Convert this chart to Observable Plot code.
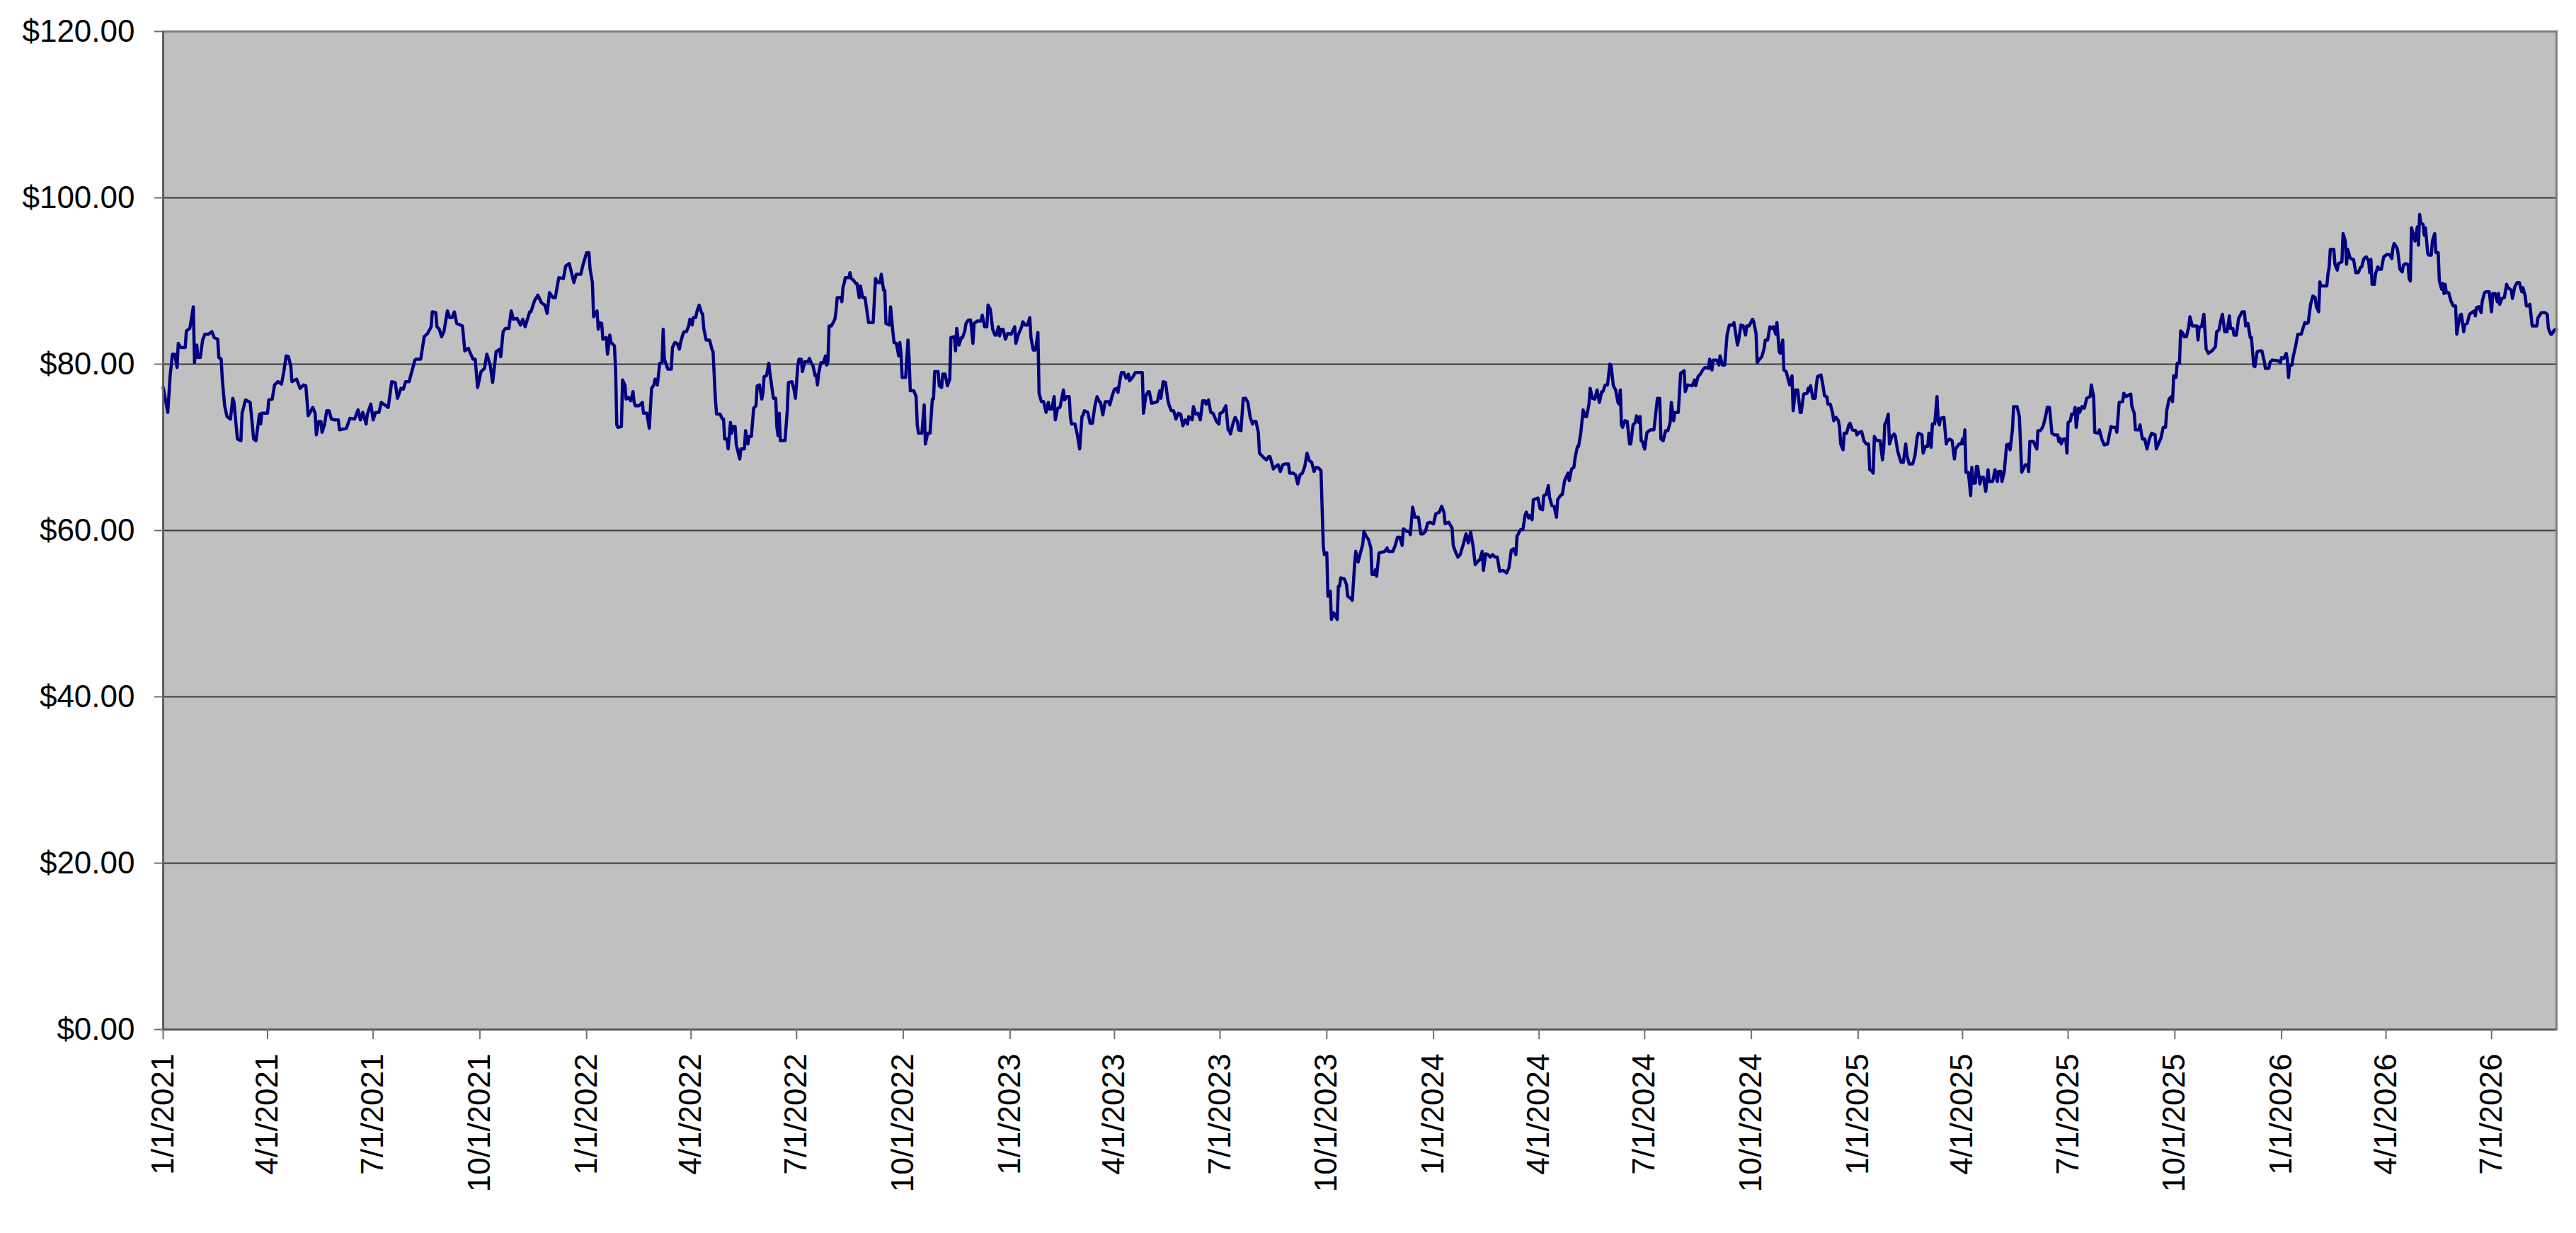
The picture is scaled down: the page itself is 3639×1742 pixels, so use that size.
<!DOCTYPE html>
<html>
<head>
<meta charset="utf-8">
<script src="https://cdn.jsdelivr.net/npm/d3@7"></script>
<script src="https://cdn.jsdelivr.net/npm/@observablehq/plot@0.6"></script>
<style>
  html, body { margin: 0; padding: 0; background: #ffffff; overflow: hidden; }
  #chart svg { display: block; }
</style>
</head>
<body>
<div id="chart"></div>
<script>
// Series values: [days since 1/1/2021, price in $]
const priceSeg1 = [
[0,77.2],[4,74.2],[6,78.6],[8,81.2],[10,81.2],[12,79.6],[13,82.5],[15,82.0],[19,82.0],[20,84.0],[23,84.3],[26,86.9],
[27,80.2],[29,82.3],[30,80.8],[32,80.8],[34,82.9],[36,83.6],[39,83.6],[42,83.9],[44,83.2],[47,83.0],[48,80.8],[50,80.6],
[51,78.1],[53,75.0],[55,73.7],[58,73.4],[60,75.9],[61,75.5],[64,71.0],[67,70.8],[68,74.1],[71,75.7],[75,75.4],[78,71.0],
[80,70.8],[83,74.0],[84,72.8],[85,74.1],[90,74.1],[91,75.7],[94,75.8],[96,77.5],[99,77.9],[102,77.6],[104,79.1],[106,81.0],
[108,80.9],[110,79.8],[111,77.9],[115,78.2],[118,77.1],[121,77.5],[123,77.4],[125,73.8],[129,74.8],[131,74.1],[132,71.5],[134,73.1],
[136,73.1],[137,71.8],[139,72.7],[141,74.4],[143,74.4],[145,73.4],[148,73.3],[151,73.3],[152,72.1],[158,72.3],[161,73.5],[165,73.4],
[168,74.5],[170,73.3],[172,74.2],[175,72.8],[176,74.0],[179,75.2],[181,73.3],[183,74.2],[186,74.2],[188,75.4],[194,74.8],[197,77.9],
[200,77.8],[202,75.9],[205,77.1],[207,77.0],[209,77.9],[212,77.9],[217,80.5],[218,80.6],[222,80.6],[225,83.3],[228,83.7],[231,84.5],
[232,86.3],[235,86.2],[236,84.5],[238,84.2],[240,83.3],[242,83.9],[245,86.4],[247,85.6],[249,85.6],[251,86.3],[253,84.9],[258,84.6],
[260,81.6],[263,81.9],[267,80.6],[269,80.6],[271,77.2],[274,79.1],[277,79.5],[279,81.2],[281,80.3],[282,79.8],[284,77.8],[287,81.5],
[290,81.8],[291,80.9],[293,83.9],[295,84.3],[298,84.3],[300,86.4],[302,85.4],[305,85.5],[308,84.7],[310,85.4],[312,84.5],[316,86.3],
[317,86.3],[320,87.6],[323,88.3],[326,87.4],[329,87.1],[331,86.1],[333,88.6],[336,88.0],[338,88.0],[341,90.4],[345,90.3],[347,91.8]
];
const priceSeg2 = [
[350,92.1],[352,91.0],[354,89.8],[356,90.8],[360,90.8],[362,92.0],[365,93.4],[367,93.4],[368,91.4],[370,89.8],[371,85.7],[374,86.4],
[375,84.2],[376,85.0],[378,84.9],[379,83.0],[382,83.2],[383,81.2],[385,83.5],[386,82.6],[389,82.2],[390,79.2],[391,72.7],[392,72.4],
[395,72.5],[396,78.1],[398,77.5],[399,75.8],[401,76.0],[403,75.6],[405,76.7],[406,75.4],[407,75.0],[410,75.0],[413,75.4],[414,74.1],
[417,74.1],[419,72.3],[421,77.1],[423,77.5],[424,78.2],[426,77.5],[428,80.1],[430,80.2],[431,84.2],[432,80.6],[435,79.4],[438,79.4],
[439,82.0],[441,82.6],[443,82.5],[445,81.8],[446,82.6],[448,83.6],[449,83.9],[451,83.9],[453,84.6],[454,85.4],[456,84.7],[457,85.6],
[459,85.6],[460,86.3],[462,87.1],[464,86.2],[465,86.0],[466,84.3],[468,82.9],[471,82.9],[473,81.8],[474,81.5],[476,75.8],[477,74.0],
[480,74.0],[482,73.4],[483,73.4],[484,71.0],[486,71.0],[487,69.8],[489,73.0],[490,71.7],[491,72.5],[493,72.5],[494,70.3],[497,68.6],
[498,69.8],[501,69.8],[502,72.0],[504,70.4],[505,71.3],[507,71.3],[509,74.7],[511,75.0],[512,77.4],[514,77.5],[516,75.8],[517,76.5],
[518,78.5],[520,78.6],[522,80.1],[523,78.9],[526,75.9],[528,75.9],[529,72.4],[530,71.4],[531,74.1],[532,70.8],[536,70.8],[538,74.5],
[539,77.8],[542,77.9],[544,76.8],[545,75.9],[547,79.8],[548,80.6],[550,80.6],[551,79.1],[553,80.3],[556,80.3],[557,80.7],[559,80.0],
[560,79.9],[562,78.6],[563,78.7],[564,77.5],[565,78.9],[567,80.2],[569,80.2],[571,81.0],[572,79.9],[573,80.3],[574,84.6],[576,84.6],
[579,85.4],[580,86.4],[581,88.0],[584,88.0],[585,87.5],[586,89.3],[587,89.7],[588,90.4],[591,90.4],[592,91.0],[593,90.3],[595,90.1],
[597,89.7],[598,89.7],[600,88.0],[601,89.4],[603,88.0],[605,88.0],[607,86.0],[608,85.0],[612,85.0],[614,90.3],[616,89.8],[618,89.8],
[619,90.8],[621,88.9],[622,88.9],[623,84.9],[626,84.7],[627,86.9],[629,83.9],[630,82.6],[632,82.5],[634,81.0],[635,82.6],[636,81.2],
[637,78.4],[640,78.4],[642,82.9],[643,80.6],[644,76.8],[647,76.8],[649,76.1],[650,72.7],[651,71.7],[654,71.7],[656,75.1],[657,70.4],
[659,71.7],[661,71.7],[663,75.8],[664,75.8],[665,79.1],[668,79.1],[669,77.4],[671,77.2],[672,78.8],[674,78.8],[676,77.4],[678,78.2],
[679,83.2],[682,83.3],[683,81.6],[684,84.3],[686,82.3],[688,83.2],[689,83.2],[691,84.0],[692,84.9],[694,85.3],[696,85.3],[698,82.5],
[699,84.9],[702,85.2],[705,85.2],[706,85.9],[708,84.5],[710,84.5]
];
const priceSeg3 = [
[711,87.1],[713,86.6],[715,84.2],[717,83.5],[718,83.5],[720,84.5],[721,83.4],[722,84.2],[724,84.2],[726,83.0],[728,83.7],[731,83.6],
[734,84.5],[735,82.5],[737,83.5],[740,84.5],[741,85.1],[743,84.7],[745,84.7],[747,85.6],[748,83.2],[750,81.7],[752,81.7],[754,83.8],
[755,76.5],[757,75.5],[759,75.5],[761,74.2],[763,75.4],[764,74.6],[766,74.6],[768,76.1],[769,73.3],[771,74.7],[773,74.8],[775,76.2],
[776,76.9],[777,75.7],[779,76.1],[781,76.1],[782,73.6],[783,72.8],[786,72.8],[788,71.5],[790,69.8],[792,73.7],[793,73.9],[794,74.4],
[797,74.2],[799,72.9],[801,72.9],[803,74.9],[805,76.1],[807,75.5],[808,75.4],[810,73.9],[812,75.5],[815,75.5],[816,75.1],[818,76.2],
[820,77.0],[822,77.1],[823,76.6],[825,78.3],[826,79.0],[828,79.0],[830,78.3],[832,78.8],[833,78.0],[836,78.5],[838,79.0],[842,79.0],
[844,79.0],[845,74.1],[847,76.2],[849,76.7],[850,76.7],[852,75.3],[855,75.4],[857,75.5],[859,76.8],[860,75.9],[862,77.9],[864,77.8],
[866,75.7],[867,75.1],[869,74.4],[871,74.4],[873,73.4],[875,74.1],[877,74.0],[879,72.6],[881,73.3],[883,72.8],[884,73.7],[887,73.3],
[888,74.9],[890,74.0],[892,74.1],[894,73.3],[896,75.6],[898,75.6],[899,75.2],[901,75.7],[903,74.2],[905,74.1],[908,73.1],[910,72.8],
[911,74.1],[913,74.2],[916,75.0],[918,72.1],[919,72.0],[920,71.6],[922,72.8],[924,73.6],[926,73.1],[927,72.1],[929,72.0],[931,75.9],
[933,75.9],[935,75.4],[937,73.6],[939,72.8],[940,73.1],[942,73.1],[944,71.8],[945,69.3],[947,69.0],[949,68.7],[951,68.5],[953,68.9],
[954,68.9],[956,67.9],[957,67.4],[959,67.7],[961,67.9],[963,67.1],[965,67.9],[967,68.0],[970,68.0],[971,66.9],[974,66.9],[976,66.7],
[978,65.6],[980,66.7],[982,66.9],[984,67.7],[986,69.3],[988,68.4],[990,68.2],[992,67.1],[993,67.4],[994,67.6],[996,67.5],[998,67.2],
[1000,58.1],[1001,57.1],[1003,57.3],[1004,52.1],[1006,52.7],[1007,49.3],[1009,50.1],[1012,49.3],[1013,53.3],[1014,53.3],[1015,54.3],[1018,54.2],
[1020,53.5],[1021,52.1],[1024,51.8],[1025,51.6],[1027,56.0],[1028,57.5],[1030,56.2],[1032,57.3],[1034,58.3],[1035,59.9],[1037,59.3],[1039,58.9],
[1041,57.9],[1042,54.7],[1044,54.7],[1045,55.3],[1046,54.5],[1048,57.3]
];
const priceSeg4 = [
[1051,57.4],[1053,57.5],[1055,57.9],[1056,57.5],[1060,57.5],[1062,58.2],[1064,59.2],[1066,59.2],[1068,58.2],[1069,60.2],[1072,59.9],[1074,59.9],
[1075,59.5],[1077,62.8],[1079,61.6],[1080,61.6],[1082,61.6],[1084,59.6],[1086,59.6],[1088,59.9],[1090,60.9],[1092,61.0],[1095,60.8],[1097,62.0],
[1100,62.2],[1102,62.9],[1104,62.2],[1105,60.8],[1108,61.0],[1111,60.3],[1112,58.2],[1114,57.4],[1116,56.8],[1118,57.1],[1121,58.5],[1123,59.6],
[1125,58.5],[1127,59.8],[1129,58.2],[1131,55.9],[1134,56.4],[1135,56.5],[1137,57.5],[1138,55.2],[1140,57.2],[1142,57.1],[1144,56.8],[1146,57.1],
[1148,56.8],[1150,56.8],[1152,55.1],[1155,55.2],[1158,54.9],[1160,55.5],[1162,57.6],[1164,57.8],[1166,57.1],[1167,59.3],[1170,60.1],[1172,60.1],
[1174,61.9],[1175,62.2],[1177,61.5],[1178,61.8],[1180,61.3],[1181,63.7],[1185,63.9],[1187,62.6],[1189,62.5],[1190,64.2],[1192,64.3],[1194,65.4],
[1195,64.0],[1197,63.0],[1199,62.9],[1201,61.6],[1202,63.7],[1205,64.3],[1206,64.3],[1208,66.0],[1211,66.9],[1212,66.0],[1214,67.4],[1216,67.6],
[1217,68.7],[1219,70.1],[1220,70.1],[1222,71.8],[1224,74.5],[1226,73.7],[1227,73.7],[1229,75.2],[1230,77.1],[1232,75.9],[1234,75.8],[1236,76.9],
[1238,75.4],[1240,76.7],[1241,76.7],[1243,77.5],[1245,77.5],[1247,80.0],[1248,79.9],[1250,77.4],[1252,76.9],[1254,75.4],[1255,75.2],[1256,76.9],
[1257,72.7],[1258,72.4],[1260,73.2],[1262,73.1],[1264,70.4],[1265,70.4],[1267,72.7],[1269,73.0],[1270,73.8],[1272,73.0],[1273,73.7],[1274,70.8],
[1275,70.7],[1277,69.8],[1279,71.8],[1282,72.1],[1285,72.1],[1288,75.9],[1290,75.9],[1291,71.0],[1293,70.8],[1295,72.0],[1297,72.0],[1299,73.0],
[1300,75.4],[1302,73.2],[1303,74.2],[1306,74.2],[1308,78.9],[1311,79.2],[1312,76.7],[1314,77.5],[1318,77.4],[1320,78.1],[1321,77.4],[1323,78.5],
[1325,78.8],[1327,79.3],[1329,79.6],[1332,79.5],[1333,80.6],[1335,79.3],[1336,80.5],[1339,80.5],[1341,79.9],[1342,81.0],[1344,79.9],[1346,79.9],
[1348,83.5],[1350,84.7],[1353,84.7],[1354,85.0],[1357,82.3],[1358,82.9],[1360,84.7],[1362,84.6],[1364,83.5],[1365,84.6],[1367,84.6],[1370,85.4],
[1371,85.1],[1373,83.7],[1374,80.2],[1376,80.6],[1378,80.9],[1380,81.9],[1381,82.9],[1383,82.9],[1385,84.5],[1387,84.3],[1388,84.5],[1390,83.6],
[1391,85.0],[1393,81.5],[1394,81.3],[1396,82.9],[1397,79.3],[1399,79.1]
];
const priceSeg5 = [
[1402,77.5],[1404,78.6],[1405,74.4],[1407,76.9],[1409,76.9],[1411,74.2],[1412,74.2],[1414,76.4],[1417,76.5],[1418,77.1],[1419,76.8],[1420,77.4],
[1422,75.9],[1424,75.9],[1425,77.5],[1426,78.5],[1429,78.7],[1431,77.2],[1432,76.2],[1434,76.1],[1435,75.2],[1437,75.2],[1439,74.1],[1440,73.2],
[1442,73.6],[1444,73.2],[1445,72.4],[1446,70.4],[1448,69.7],[1449,71.7],[1451,71.7],[1453,72.7],[1454,72.9],[1456,72.1],[1459,72.0],[1460,71.5],
[1462,71.8],[1464,71.9],[1466,70.8],[1468,70.4],[1470,70.4],[1471,67.3],[1472,67.3],[1474,66.9],[1475,71.3],[1477,70.8],[1480,70.8],[1482,68.5],
[1483,69.8],[1484,72.8],[1485,73.0],[1487,74.0],[1488,70.4],[1490,71.3],[1492,71.6],[1493,71.4],[1495,69.6],[1496,69.1],[1498,68.2],[1500,68.2],
[1502,70.4],[1503,69.1],[1505,68.0],[1508,68.0],[1510,69.0],[1512,71.3],[1513,71.7],[1516,71.5],[1517,69.3],[1519,70.1],[1521,70.1],[1522,71.7],
[1524,70.0],[1525,72.8],[1527,72.8],[1529,76.1],[1530,73.2],[1531,72.7],[1532,73.5],[1535,73.6],[1537,70.4],[1538,70.8],[1540,71.0],[1542,70.8],
[1544,68.6],[1545,69.8],[1548,70.4],[1550,70.4],[1551,71.0],[1552,70.4],[1553,72.1],[1554,67.0],[1556,67.0],[1558,64.2],[1559,67.6],[1560,65.7],
[1562,65.7],[1563,67.7],[1564,67.7],[1566,65.6],[1567,66.4],[1569,66.4],[1571,64.7],[1573,67.3],[1574,65.9],[1577,65.9],[1579,67.3],[1581,65.9],
[1582,67.1],[1584,67.1],[1585,65.9],[1587,67.1],[1589,70.3],[1591,70.4],[1592,69.7],[1594,72.1],[1595,74.9],[1598,74.9],[1600,73.7],[1602,67.0],
[1603,67.3],[1605,67.9],[1607,67.9],[1608,67.1],[1609,70.7],[1612,70.7],[1613,70.4],[1615,69.8],[1616,72.0],[1618,72.0],[1620,72.4],[1621,72.8],
[1623,74.0],[1624,74.8],[1626,74.8],[1628,71.7],[1630,71.5],[1633,71.5],[1634,70.7],[1635,71.1],[1636,70.4],[1638,71.0],[1640,71.0],[1641,69.3],
[1642,73.0],[1644,73.2],[1645,74.0],[1647,74.0],[1648,74.8],[1649,72.4],[1651,74.7],[1652,74.2],[1654,74.9],[1656,74.7],[1658,75.9],[1661,76.1],
[1662,77.5],[1664,76.1],[1665,71.8],[1668,71.7],[1669,72.1],[1671,71.0],[1673,70.3],[1676,70.4],[1677,71.1],[1679,72.5],[1680,72.4],[1683,72.4],
[1684,71.8],[1686,75.4],[1689,75.5],[1690,76.5],[1692,76.1],[1696,76.4],[1697,74.9],[1699,74.1],[1700,72.1],[1703,72.1],[1704,72.7],[1706,71.0],
[1708,71.0],[1710,69.8],[1712,71.0],[1714,71.7],[1717,71.5],[1718,69.8],[1721,70.8],[1722,71.1],[1724,72.4],[1726,72.4],[1727,74.4],[1729,75.8],
[1731,76.1],[1732,75.5],[1733,78.6],[1735,78.4],[1736,80.1],[1738,80.1],[1739,84.0],[1741,83.7],[1742,83.3],[1744,83.3],[1746,84.5],[1747,85.7],
[1749,84.6],[1751,84.6],[1753,84.6],[1754,82.9],[1755,84.5],[1757,84.5],[1759,86.0],[1761,81.8],[1763,81.3],[1766,81.6]
];
const priceSeg6 = [
[1769,82.1],[1770,83.9],[1772,84.1],[1774,85.5],[1775,86.0],[1777,83.9],[1779,83.9],[1781,85.8],[1782,84.3],[1784,84.3],[1785,83.5],[1787,83.5],
[1789,85.5],[1792,86.3],[1794,86.3],[1795,84.6],[1797,84.9],[1799,83.2],[1800,83.2],[1802,79.8],[1803,79.7],[1805,81.5],[1807,81.6],[1809,81.6],
[1811,80.4],[1812,79.5],[1815,79.5],[1816,80.2],[1818,80.5],[1823,80.4],[1825,80.2],[1826,80.8],[1828,80.7],[1830,81.3],[1831,80.5],[1832,78.4],
[1833,79.9],[1835,79.9],[1836,80.9],[1838,82.1],[1840,83.6],[1843,83.6],[1844,84.1],[1846,85.0],[1848,84.9],[1849,85.0],[1851,87.2],[1853,88.2],
[1855,88.0],[1856,86.9],[1858,86.3],[1859,89.9],[1860,89.4],[1863,89.4],[1865,89.4],[1866,90.9],[1867,91.6],[1868,93.8],[1871,93.8],[1872,92.0],
[1874,91.3],[1875,92.1],[1878,92.3],[1879,95.7],[1881,94.8],[1882,92.0],[1883,93.8],[1885,92.8],[1887,92.6],[1888,92.6],[1890,91.0],[1892,91.0],
[1894,91.6],[1895,91.7],[1897,92.7],[1899,92.9],[1901,92.4],[1902,91.0],[1903,92.6],[1904,89.6],[1906,89.6],[1907,90.9],[1909,91.7],[1910,91.4],
[1912,91.4],[1914,92.9],[1917,93.2],[1919,93.2],[1921,92.7],[1922,94.0],[1923,94.5],[1925,94.1],[1926,93.7],[1928,91.4],[1930,91.1],[1931,91.9],
[1933,92.1],[1935,92.0],[1936,90.3],[1937,90.0],[1938,96.4],[1940,95.4],[1941,94.8],[1943,96.5],[1944,94.3],[1945,98.0],[1946,97.0],[1948,96.8],
[1949,95.5],[1950,96.4],[1952,93.3],[1953,93.1],[1955,93.1],[1956,94.8],[1958,95.7],[1959,93.4],[1961,93.4],[1962,90.0],[1964,89.0],[1965,89.7],
[1966,88.5],[1967,89.6],[1968,88.6],[1970,88.6],[1972,87.6],[1974,87.0],[1976,87.0],[1977,83.6],[1978,84.5],[1980,85.9],[1981,86.0],[1983,83.9],
[1984,84.8],[1986,84.9],[1988,86.0],[1990,86.2],[1992,86.4],[1993,85.8],[1994,86.8],[1996,86.9],[1998,86.2],[1999,87.6],[2001,88.6],[2002,88.7],
[2005,88.7],[2007,86.3],[2008,88.5],[2010,88.5],[2012,87.5],[2013,88.5],[2014,87.2],[2016,87.9],[2018,88.0],[2020,89.6],[2021,89.2],[2024,88.9],
[2025,87.9],[2027,89.3],[2029,89.8],[2031,89.8],[2033,88.7],[2034,89.2],[2036,88.2],[2037,87.0],[2039,87.0],[2040,87.2],[2042,84.6],[2044,84.6],
[2046,84.6],[2047,85.6],[2050,86.2],[2053,86.2],[2055,86.0],[2056,84.3],[2058,83.6],[2059,83.6],[2061,84.1],[2063,84.2]
];

const seriesStart = "1/1/2021";
const seriesEnd = "8/26/2026";
const xTickLabels = [
  "1/1/2021","4/1/2021","7/1/2021","10/1/2021",
  "1/1/2022","4/1/2022","7/1/2022","10/1/2022",
  "1/1/2023","4/1/2023","7/1/2023","10/1/2023",
  "1/1/2024","4/1/2024","7/1/2024","10/1/2024",
  "1/1/2025","4/1/2025","7/1/2025","10/1/2025",
  "1/1/2026","4/1/2026","7/1/2026"
];
const yTicks = [0, 20, 40, 60, 80, 100, 120];

const parseDate = d3.utcParse("%m/%d/%Y");
const startDate = parseDate(seriesStart);
const endDate = parseDate(seriesEnd);
const DAY = 864e5;

const table = [priceSeg1, priceSeg2, priceSeg3, priceSeg4, priceSeg5, priceSeg6]
  .flat()
  .map(([d, v]) => ({date: new Date(+startDate + d * DAY), price: v}));

const xTicks = xTickLabels.map(l => ({date: parseDate(l), label: l}));

const FONT = "'Liberation Sans', Arial, Helvetica, sans-serif";

const chart = Plot.plot({
  width: 3639,
  height: 1742,
  marginLeft: 230,
  marginRight: 28,
  marginTop: 44,
  marginBottom: 288,
  style: {fontFamily: FONT, fontSize: "44px", background: "#ffffff", color: "#000000", overflow: "visible"},
  x: {type: "utc", domain: [startDate, endDate]},
  y: {domain: [0, 120]},
  marks: [
    Plot.frame({fill: "#C0C0C0", stroke: null}),
    Plot.gridY(yTicks.filter(t => t > 0 && t < 120), {stroke: "#3a3a3a", strokeOpacity: 1, strokeWidth: 2}),
    Plot.line(table, {x: "date", y: "price", stroke: "#000080", strokeWidth: 4.5, strokeLinejoin: "round"}),
    Plot.frame({stroke: "#808080", strokeWidth: 3}),
    Plot.ruleX([startDate], {stroke: "#505050", strokeWidth: 2}),
    Plot.ruleY([0], {stroke: "#505050", strokeWidth: 2}),
    Plot.axisY(yTicks, {
      tickFormat: d => "$" + d.toFixed(2),
      tickSize: 12, tickPadding: 28, stroke: "#707070", strokeWidth: 2,
      fill: "#000000", fontSize: 44, label: null
    }),
    Plot.axisX(xTicks.map(t => t.date), {
      tickSize: 14, tickFormat: () => "", stroke: "#707070", strokeWidth: 2, label: null
    }),
    Plot.text(xTicks, {
      x: "date", text: "label", frameAnchor: "bottom", dy: 34,
      rotate: -90, textAnchor: "end", lineAnchor: "middle",
      fontSize: 44, fill: "#000000"
    })
  ]
});

document.getElementById("chart").appendChild(chart);
</script>
</body>
</html>
